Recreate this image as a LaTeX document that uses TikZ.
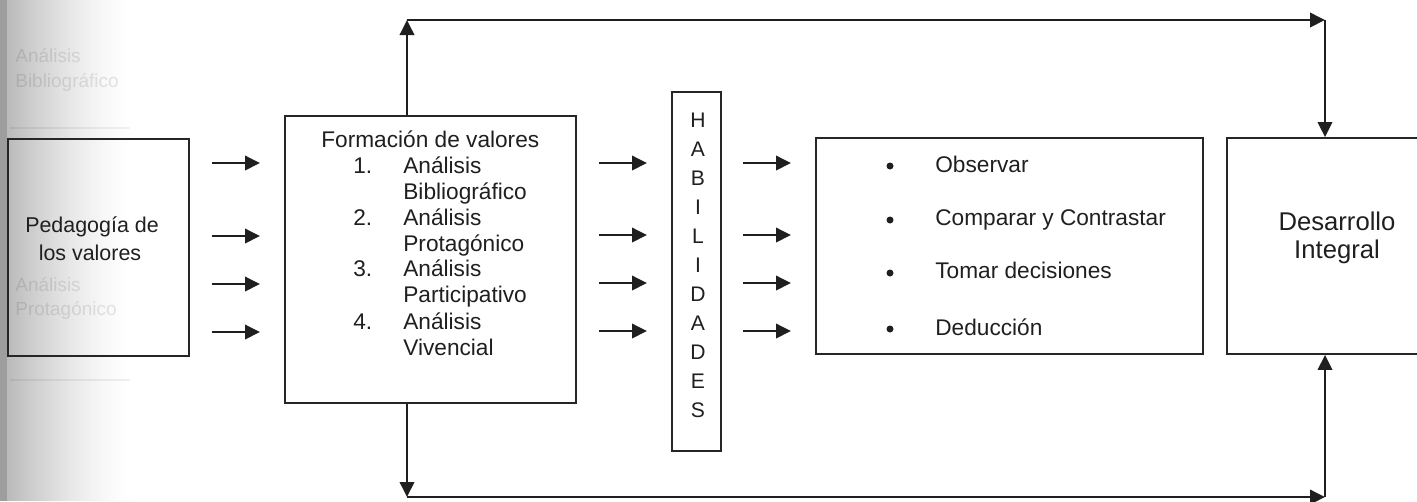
\documentclass[tikz,border=0pt]{standalone}
\usepackage{fontspec}
\setmainfont{Liberation Sans}
\usetikzlibrary{arrows.meta}
\begin{document}
\begin{tikzpicture}[x=0.02cm,y=-0.02cm,
  box/.style={draw=black!85, line width=1.1pt, inner sep=0pt},
  arr/.style={draw=black!88, line width=1.1pt, -{Triangle[length=0.3cm,width=0.29cm]}},
  txt/.style={inner sep=0pt, anchor=base west, text=black!88, font={\fontsize{12.9pt}{15pt}\selectfont}},
  ctxt/.style={inner sep=0pt, anchor=base, text=black!88},
  ghost/.style={inner sep=0pt, anchor=base west, text=black, text opacity=0.1, font={\fontsize{10.8pt}{13pt}\selectfont}},
  dot/.style={circle, fill=black!88, inner sep=0pt, minimum size=0.14cm}]
\useasboundingbox (0,0) rectangle (1417,501);
\clip (0,0) rectangle (1417,501);
% scan shadow on the left edge
\fill[black!38] (0,0) rectangle (7,501);
\foreach \i in {0,...,61} {
  \pgfmathsetmacro\g{27*(1-\i/62)^1.5}
  \fill[black!\g] ({7+2*\i},0) rectangle ({9.3+2*\i},501);
}
% faint bleed-through
\node[ghost] (g1) at (15,62) {Análisis};
\node[ghost] (g2) at (15,87) {Bibliográfico};
\node[ghost] (g3) at (15,291) {Análisis};
\node[ghost] (g4) at (15,315) {Protagónico};
\draw[black, opacity=0.06, line width=0.6pt] (10,128) -- (130,128);
\draw[black, opacity=0.06, line width=0.6pt] (10,380) -- (130,380);
% boxes
\node[box, minimum width=3.62cm, minimum height=4.34cm] (ped) at (98.5,247.5) {};
\node[box, minimum width=5.82cm, minimum height=5.74cm] (form) at (430.5,259.5) {};
\node[box, minimum width=0.98cm, minimum height=7.18cm] (hab) at (696.5,271.5) {};
\node[box, minimum width=7.74cm, minimum height=4.32cm] (bul) at (1009.5,246) {};
\node[box, minimum width=4.66cm, minimum height=4.32cm] (des) at (1343.5,246) {};
% Pedagogia text
\node[ctxt, font={\fontsize{12.2pt}{14pt}\selectfont}] (p1) at (92,232) {Pedagogía de};
\node[ctxt, font={\fontsize{12.2pt}{14pt}\selectfont}] (p2) at (90,260) {los valores};
% Formacion text
\node[txt] (f0) at (321,147.7) {Formación de valores};
\node[txt] (n1) at (353,173.3) {1.};
\node[txt] (f1) at (403,173.3) {Análisis};
\node[txt] (f1b) at (403,199.3) {Bibliográfico};
\node[txt] (n2) at (353,225) {2.};
\node[txt] (f2) at (403,225) {Análisis};
\node[txt] (f2b) at (403,251) {Protagónico};
\node[txt] (n3) at (353,276.7) {3.};
\node[txt] (f3) at (403,276.7) {Análisis};
\node[txt] (f3b) at (403,302.7) {Participativo};
\node[txt] (n4) at (353,329.3) {4.};
\node[txt] (f4) at (403,329.3) {Análisis};
\node[txt] (f4b) at (403,355) {Vivencial};
% HABILIDADES
\foreach \l [count=\i] in {H,A,B,I,L,I,D,A,D,E,S}
  \node[ctxt, font={\fontsize{12pt}{13pt}\selectfont}] (h\i) at (698,{127+29*(\i-1)}) {\l};
% bullets
\node[dot] (b1) at (890,166) {};
\node[dot] (b2) at (890,220) {};
\node[dot] (b3) at (890,273) {};
\node[dot] (b4) at (890,329) {};
\node[txt] (t1) at (935,172.3) {Observar};
\node[txt] (t2) at (935,225.7) {Comparar y Contrastar};
\node[txt] (t3) at (935,278.3) {Tomar decisiones};
\node[txt] (t4) at (935,335) {Deducción};
% Desarrollo
\node[ctxt, font={\fontsize{14.6pt}{17pt}\selectfont}] (d1) at (1337,230) {Desarrollo};
\node[ctxt, font={\fontsize{14.6pt}{17pt}\selectfont}] (d2) at (1337,258.3) {Integral};
% short arrows
\foreach \y [count=\i] in {163,236,284,332} {
  \coordinate (la\i) at (212,\y); \coordinate (lb\i) at (260,\y);
  \draw[arr] (la\i) -- (lb\i);
}
\foreach \y [count=\i] in {163,235,283,331} {
  \coordinate (ma\i) at (599,\y); \coordinate (mb\i) at (647,\y);
  \draw[arr] (ma\i) -- (mb\i);
  \coordinate (ra\i) at (743,\y); \coordinate (rb\i) at (791,\y);
  \draw[arr] (ra\i) -- (rb\i);
}
% feedback loops
\coordinate (tl) at (407,20);
\coordinate (tr) at (1325,20);
\coordinate (bl) at (407,497);
\coordinate (br) at (1325,497);
\draw[arr] (tl |- form.north) -- (tl);
\draw[arr] (tl) -- (tr);
\draw[arr] (tr) -- (tr |- des.north);
\draw[arr] (bl |- form.south) -- (bl);
\draw[arr] (bl) -- (br);
\draw[arr] (br) -- (br |- des.south);
\end{tikzpicture}
\end{document}
